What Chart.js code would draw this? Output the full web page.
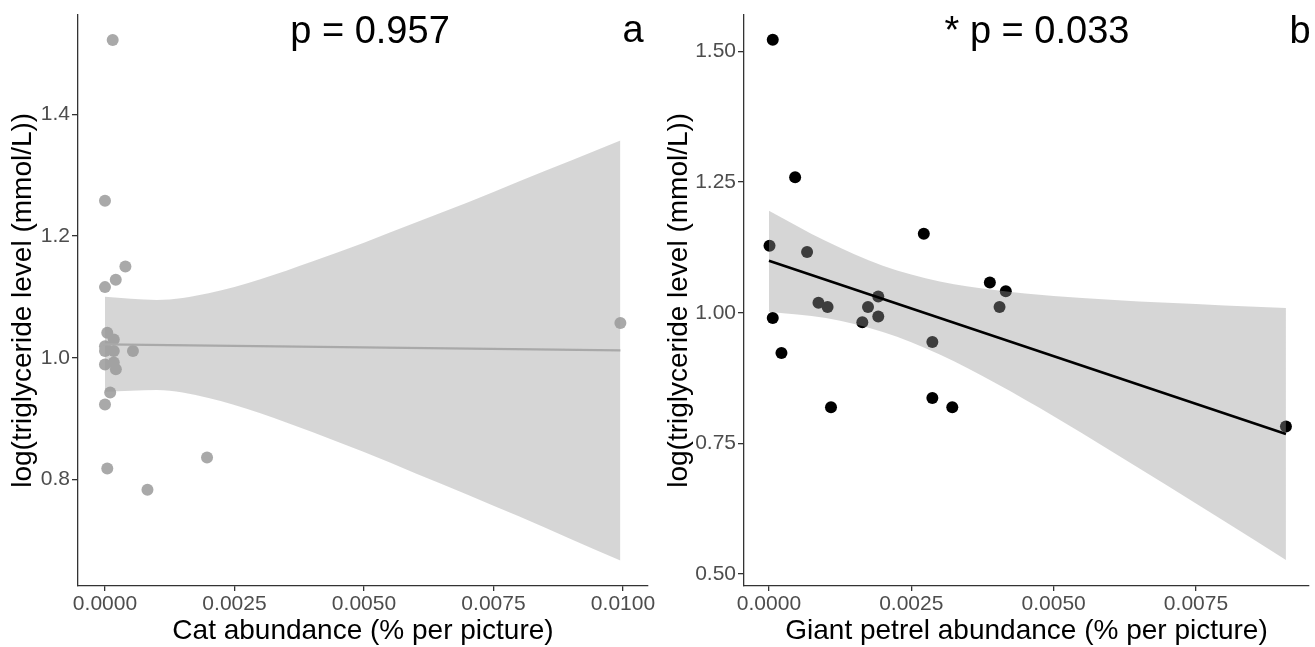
<!DOCTYPE html>
<html><head><meta charset="utf-8">
<script src="https://cdn.jsdelivr.net/npm/chart.js@4.4.1/dist/chart.umd.min.js"></script>
<style>
html,body{margin:0;padding:0;background:#fff;}
#wrap{position:relative;width:1315px;height:647px;overflow:hidden;}
canvas{position:absolute;top:0;}
</style>
</head><body>
<div id="wrap">
<canvas id="ca" width="657" height="647" style="left:0px"></canvas>
<canvas id="cb" width="658" height="647" style="left:657px"></canvas>
</div>
<script>
// ---- Panel a: cat abundance ----
const catX = [0.000149, 0, 0.000394, 0.000208, 0, 0.00995, 0.000044, 0.00017, 0, 0, 0.00017, 0.00054, 0, 0.00017, 0.00021, 0.0001, 0, 0.00197, 0.000044, 0.00082];
const catY = [1.522, 1.258, 1.150, 1.128, 1.116, 1.057, 1.041, 1.030, 1.019, 1.011, 1.011, 1.011, 0.989, 0.992, 0.981, 0.943, 0.923, 0.836, 0.818, 0.783];
const catLineX = [0, 0.00995];
const catLineY = [1.022, 1.012];
const catBandX = [0, 0.001, 0.002, 0.003, 0.004, 0.005, 0.006, 0.007, 0.008, 0.009, 0.00995];
const catBandLow = [0.944, 0.947, 0.934, 0.909, 0.878, 0.845, 0.810, 0.775, 0.739, 0.702, 0.667];
const catBandHigh = [1.100, 1.095, 1.106, 1.129, 1.158, 1.189, 1.222, 1.255, 1.290, 1.324, 1.357];
const catXTicks = [0, 0.0025, 0.005, 0.0075, 0.01];
const catYTicks = [0.8, 1.0, 1.2, 1.4];

// ---- Panel b: giant petrel abundance ----
const petrelX = [0.000067, 0.00046, 0.00001, 0.00067, 0.00272, 0.00388, 0.00416, 0.000067, 0.00022, 0.00109, 0.00287, 0.00322, 0.00908, 0.00287, 0.00405, 0.00087, 0.00103, 0.00164, 0.00174, 0.00192, 0.00192];
const petrelY = [1.522, 1.259, 1.128, 1.116, 1.151, 1.058, 1.041, 0.990, 0.923, 0.819, 0.837, 0.819, 0.7825, 0.944, 1.011, 1.019, 1.011, 0.982, 1.011, 0.993, 1.031];
const petrelLineX = [0, 0.00908];
const petrelLineY = [1.0995, 0.768];
const petrelBandX = [0, 0.001, 0.002, 0.003, 0.004, 0.005, 0.006, 0.007, 0.008, 0.00908];
const petrelBandLow = [1.002, 0.990, 0.963, 0.920, 0.864, 0.802, 0.736, 0.669, 0.601, 0.527];
const petrelBandHigh = [1.195, 1.137, 1.090, 1.060, 1.043, 1.032, 1.025, 1.019, 1.014, 1.009];
const petrelXTicks = [0, 0.0025, 0.005, 0.0075];
const petrelYTicks = [0.5, 0.75, 1.0, 1.25, 1.5];

const FONT = '"Liberation Sans", Arial, Helvetica, sans-serif';
const pts = (xs, ys) => xs.map((x, i) => ({x: x, y: ys[i]}));

const annPlugin = {
  id: 'ann',
  afterDatasetsDraw(chart, args, opts) {
    const ctx = chart.ctx;
    ctx.save();
    ctx.fillStyle = '#000';
    ctx.font = '38px ' + FONT;
    ctx.textAlign = 'center';
    ctx.textBaseline = 'alphabetic';
    (opts.items || []).forEach(it => ctx.fillText(it.text, it.x, it.y));
    ctx.restore();
  }
};

function makePanel(id, p) {
  const ds = [
    { type: 'scatter', data: pts(p.x, p.y), backgroundColor: p.pointColor, borderWidth: 0,
      pointRadius: 6, pointHoverRadius: 6, order: 3 },
    { type: 'line', data: pts(p.bandX, p.bandLow), borderColor: 'rgba(0,0,0,0)', borderWidth: 0,
      pointRadius: 0, fill: false, cubicInterpolationMode: 'monotone', order: 2 },
    { type: 'line', data: pts(p.bandX, p.bandHigh), borderColor: 'rgba(0,0,0,0)', borderWidth: 0,
      pointRadius: 0, fill: {target: 1}, backgroundColor: 'rgba(153,153,153,0.4)',
      cubicInterpolationMode: 'monotone', order: 2 },
    { type: 'line', data: pts(p.lineX, p.lineY), borderColor: p.lineColor, borderWidth: p.lineWidth,
      pointRadius: 0, fill: false, order: 0 }
  ];
  return new Chart(document.getElementById(id), {
    type: 'scatter',
    data: { datasets: ds },
    plugins: [annPlugin],
    options: {
      responsive: false, animation: false, events: [],
      layout: { padding: { left: 0, right: p.padRight, top: 12, bottom: 0 } },
      plugins: { legend: { display: false }, tooltip: { enabled: false }, ann: { items: p.ann } },
      scales: {
        x: {
          type: 'linear', min: p.xmin, max: p.xmax,
          afterBuildTicks: s => { s.ticks = p.xTicks.map(v => ({value: v})); },
          afterFit: s => { s.height = 61; },
          ticks: { callback: v => Number(v).toFixed(4), color: '#4d4d4d', padding: 1,
                   font: { family: FONT, size: 21 }, maxRotation: 0, autoSkip: false },
          grid: { drawOnChartArea: false, drawTicks: true, tickLength: 5, color: '#333', lineWidth: 1.3 },
          border: { display: true, color: '#333', width: 1.3 },
          title: { display: true, text: p.xTitle, color: '#000',
                   font: { family: FONT, size: 28, lineHeight: 1 }, padding: { top: 0, bottom: 2 } }
        },
        y: {
          type: 'linear', min: p.ymin, max: p.ymax,
          afterBuildTicks: s => { s.ticks = p.yTicks.map(v => ({value: v})); },
          afterFit: s => { s.width = p.yWidth; },
          ticks: { callback: v => Number(v).toFixed(p.yDec), color: '#4d4d4d', padding: 2,
                   font: { family: FONT, size: 21 }, autoSkip: false },
          grid: { drawOnChartArea: false, drawTicks: true, tickLength: 6, color: '#333', lineWidth: 1.3 },
          border: { display: true, color: '#333', width: 1.3 },
          title: { display: true, text: 'log(triglyceride level (mmol/L))', color: '#000',
                   font: { family: FONT, size: 28, lineHeight: 1 }, padding: { top: p.yTitlePad, bottom: 0 } }
        }
      }
    }
  });
}

makePanel('ca', {
  x: catX, y: catY, lineX: catLineX, lineY: catLineY,
  bandX: catBandX, bandLow: catBandLow, bandHigh: catBandHigh,
  pointColor: '#a9a9a9', lineColor: '#a9a9a9', lineWidth: 2.3,
  xmin: -0.000521, xmax: 0.010483, ymin: 0.625, ymax: 1.5637,
  xTicks: catXTicks, yTicks: catYTicks, yDec: 1,
  xTitle: 'Cat abundance (% per picture)', yWidth: 78, padRight: 9, yTitlePad: 9,
  ann: [{text: 'p = 0.957', x: 370, y: 43}, {text: 'a', x: 633, y: 42}]
});

makePanel('cb', {
  x: petrelX, y: petrelY, lineX: petrelLineX, lineY: petrelLineY,
  bandX: petrelBandX, bandLow: petrelBandLow, bandHigh: petrelBandHigh,
  pointColor: '#000000', lineColor: '#000000', lineWidth: 2.5,
  xmin: -0.000438, xmax: 0.009485, ymin: 0.4773, ymax: 1.5703,
  xTicks: petrelXTicks, yTicks: petrelYTicks, yDec: 2,
  xTitle: 'Giant petrel abundance (% per picture)', yWidth: 87, padRight: 5, yTitlePad: 8,
  ann: [{text: '* p = 0.033', x: 380, y: 43}, {text: 'b', x: 643, y: 43}]
});
</script>
</body></html>
